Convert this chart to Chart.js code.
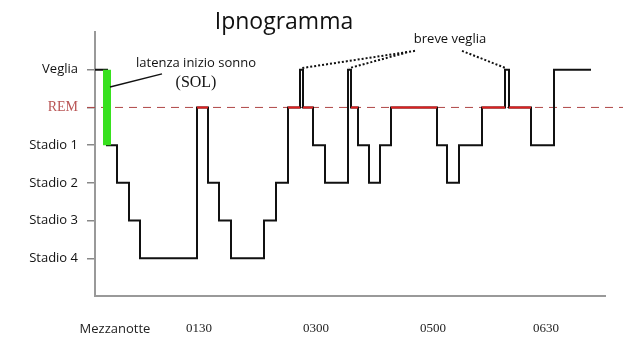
<!DOCTYPE html>
<html><head><meta charset="utf-8">
<script src="https://cdn.jsdelivr.net/npm/chart.js@4/dist/chart.umd.min.js"></script>
<style>html,body{margin:0;padding:0;background:#fff;overflow:hidden}#wrap{width:641px;height:356px;position:relative}</style>
</head><body><div id="wrap"><canvas id="c" width="641" height="356"></canvas></div>
<script>
// ---- data ----
const titleText = 'Ipnogramma';
const stageNames = ['Stadio 4', 'Stadio 3', 'Stadio 2', 'Stadio 1', 'REM', 'Veglia'];
// minutes from start of recording at which the stage changes
const changeTimes = [0, 12, 22, 34, 45, 102, 113, 124, 136, 169, 181, 193, 205, 208, 218, 230, 253, 256, 263, 274, 285, 296, 342, 352, 364, 387, 410, 414, 436, 459, 496];
const stages = ['Veglia', 'Stadio 1', 'Stadio 2', 'Stadio 3', 'Stadio 4', 'REM', 'Stadio 2', 'Stadio 3', 'Stadio 4', 'Stadio 3', 'Stadio 2', 'REM', 'Veglia', 'REM', 'Stadio 1', 'Stadio 2', 'Veglia', 'REM', 'Stadio 1', 'Stadio 2', 'Stadio 1', 'REM', 'Stadio 1', 'Stadio 2', 'Stadio 1', 'REM', 'Veglia', 'REM', 'Stadio 1', 'Veglia', 'Veglia'];
const timeTickValues = [20, 104, 221, 338, 451];
const timeTickLabels = ['Mezzanotte', '0130', '0300', '0500', '0630'];
const solTime = 12;                 // sleep onset latency ends here
const solFrom = 'Veglia', solTo = 'Stadio 1';
const breveVegliaTimes = [205, 253, 410];
const solLabel = 'latenza inizio sonno', solAbbr = '(SOL)', breveLabel = 'breve veglia';

// ---- build datasets ----
const lvl = n => stageNames.indexOf(n);
const REM = lvl('REM');
const hypno = changeTimes.map((t, i) => ({ x: t, y: lvl(stages[i]) }));
const remSegs = [];
for (let i = 0; i < stages.length - 1; i++) {
  if (stages[i] === 'REM') {
    remSegs.push({ x: changeTimes[i], y: REM }, { x: changeTimes[i + 1], y: REM }, { x: changeTimes[i + 1], y: null });
  }
}
const xMin = 0, xMax = 510;
const remGuide = [{ x: xMin - 8, y: REM }, { x: xMax + 18, y: REM }];
const solBar = [{ x: solTime, y: lvl(solFrom) }, { x: solTime, y: lvl(solTo) }];

const SANS = '"Open Sans", sans-serif';
const SERIF = '"Liberation Serif", "DejaVu Serif", serif';

const notes = {
  id: 'notes',
  afterDatasetsDraw(chart) {
    const { ctx, scales: { x, y } } = chart;
    const P = (a, b) => [x.getPixelForValue(a), y.getPixelForValue(b)];
    ctx.save();
    ctx.fillStyle = '#111';
    ctx.textAlign = 'center';
    ctx.textBaseline = 'middle';
    ctx.font = '23px ' + SANS;
    ctx.fillText(titleText, 284, 22);
    ctx.font = '13px ' + SANS;
    ctx.fillText(solLabel, ...P(101, 5.18));
    ctx.fillText(breveLabel, ...P(355, 5.81));
    ctx.font = '16px ' + SERIF;
    ctx.fillText(solAbbr, ...P(101, 4.65));
    // SOL leader
    ctx.strokeStyle = '#111';
    ctx.lineWidth = 1.5;
    ctx.beginPath();
    ctx.moveTo(...P(solTime + 3, 4.54));
    ctx.lineTo(...P(67, 4.89));
    ctx.stroke();
    // dotted leaders to brief awakenings
    ctx.lineWidth = 2;
    ctx.setLineDash([2, 2]);
    const starts = [[320, 5.50], [312, 5.46], [367, 5.50]];
    breveVegliaTimes.forEach((t, i) => {
      ctx.beginPath();
      ctx.moveTo(...P(starts[i][0], starts[i][1]));
      ctx.lineTo(...P(t + 1, 5.04));
      ctx.stroke();
    });
    ctx.restore();
  }
};

new Chart(document.getElementById('c'), {
  type: 'line',
  data: {
    datasets: [
      { data: remGuide, borderColor: 'rgb(175,70,70)', borderWidth: 1, borderDash: [8, 6], pointRadius: 0, clip: false, order: 4 },
      { data: hypno, stepped: 'before', borderColor: '#111', borderWidth: 2, pointRadius: 0, borderJoinStyle: 'miter', order: 3 },
      { data: remSegs, borderColor: 'rgb(225,30,30)', borderWidth: 2, pointRadius: 0, spanGaps: false, order: 2 },
      { data: solBar, borderColor: 'rgb(55,225,30)', borderWidth: 8, pointRadius: 0, borderCapStyle: 'butt', order: 1 }
    ]
  },
  options: {
    responsive: false,
    animation: false,
    devicePixelRatio: 1,
    layout: { padding: { top: 32, right: 36, left: 0, bottom: 0 } },
    plugins: { legend: { display: false }, tooltip: { enabled: false }, title: { display: false } },
    scales: {
      x: {
        type: 'linear', min: xMin, max: xMax,
        afterFit(s) { s.height = 60; },
        afterBuildTicks(s) { s.ticks = timeTickValues.map(v => ({ value: v })); },
        grid: { display: false, drawTicks: false },
        border: { display: true, color: '#999', width: 2 },
        ticks: {
          autoSkip: false, maxRotation: 0, padding: 25,
          callback: (v, i) => timeTickLabels[i],
          color: '#222',
          font: ctx => ctx.index === 0 ? { family: SANS, size: 13 } : { family: SERIF, size: 13 }
        }
      },
      y: {
        type: 'linear', min: -1, max: 6,
        afterFit(s) { s.width = 95; },
        afterBuildTicks(s) { s.ticks = stageNames.map((n, i) => ({ value: i })); },
        grid: { drawOnChartArea: false, tickLength: 8, color: '#888', lineWidth: 1.5 },
        border: { display: true, color: '#999', width: 2 },
        ticks: {
          padding: 9,
          callback: v => stageNames[v],
          color: ctx => (ctx.tick && ctx.tick.value === REM) ? 'rgb(185,85,85)' : '#111',
          font: ctx => (ctx.tick && ctx.tick.value === REM) ? { family: SERIF, size: 14 } : { family: SANS, size: 13 }
        }
      }
    }
  },
  plugins: [notes]
});
</script>
</body></html>
